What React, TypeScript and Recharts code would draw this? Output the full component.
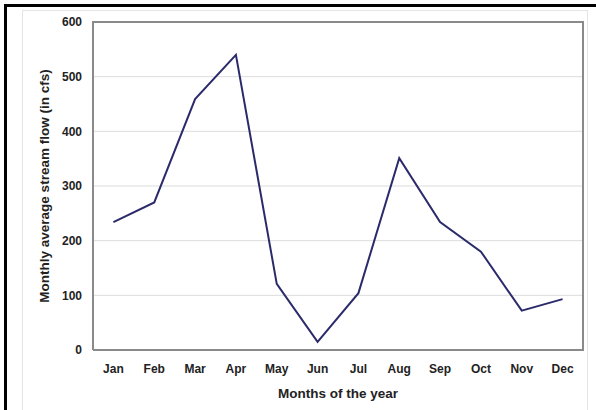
import { LineChart, Line, XAxis, YAxis, CartesianGrid } from "recharts";

const months = ["Jan", "Feb", "Mar", "Apr", "May", "Jun", "Jul", "Aug", "Sep", "Oct", "Nov", "Dec"];
const flow = [234, 270, 459, 540, 121, 15, 104, 351, 234, 180, 72, 93];
const yTicks = [0, 100, 200, 300, 400, 500, 600];

const data = months.map((m, i) => ({ month: m, flow: flow[i] }));

const font = { fontFamily: "'Liberation Sans', Arial, sans-serif", fontSize: 12, fontWeight: 700, fill: "#222" };
const titleFont = { ...font, fontSize: 13.5 };

export default function App() {
  return (
    <div style={{ position: "absolute", left: 0, top: 0, width: 596, height: 410, background: "#fff", overflow: "hidden" }}>
      {/* black frame, top and left only */}
      <div style={{ position: "absolute", left: 4, top: 4, width: 600, height: 3, background: "#000" }} />
      <div style={{ position: "absolute", left: 4, top: 4, width: 3, height: 420, background: "#000" }} />
      {/* faint chart-area frame */}
      <div style={{ position: "absolute", left: 22, top: 10, width: 566, height: 420, border: "1px solid #e4e4e4", boxSizing: "border-box" }} />
      <div style={{ position: "absolute", left: 0, top: 0 }}>
        <LineChart width={596} height={410} data={data} margin={{ top: 22, right: 13, bottom: 0, left: 0 }}>
          <CartesianGrid vertical={false} stroke="#dcdcdc" />
          <XAxis
            dataKey="month"
            scale="band"
            tickLine={false}
            tickSize={0}
            tickMargin={14}
            height={60}
            axisLine={{ stroke: "#8a8a8a", strokeWidth: 2 }}
            tick={font}
            interval={0}
            label={{ value: "Months of the year", position: "insideBottom", offset: 12, style: titleFont }}
          />
          <YAxis
            domain={[0, 600]}
            ticks={yTicks}
            width={93}
            tickLine={false}
            tickSize={0}
            tickMargin={11}
            axisLine={{ stroke: "#8a8a8a", strokeWidth: 2 }}
            tick={font}
            label={{ value: "Monthly average stream flow (in cfs)", angle: -90, position: "center", dx: -2, style: titleFont }}
          />
          <Line
            type="linear"
            dataKey="flow"
            stroke="#2b2b6b"
            strokeWidth={2}
            dot={false}
            isAnimationActive={false}
          />
        </LineChart>
      </div>
      {/* plot-area border on top (plot is x 93..583, y 22..350) */}
      <div
        style={{
          position: "absolute",
          left: 92,
          top: 21,
          width: 492,
          height: 330,
          borderTop: "2px solid #8a8a8a",
          borderRight: "2px solid #8a8a8a",
          boxSizing: "border-box",
          pointerEvents: "none",
          zIndex: 5,
        }}
      />
    </div>
  );
}
